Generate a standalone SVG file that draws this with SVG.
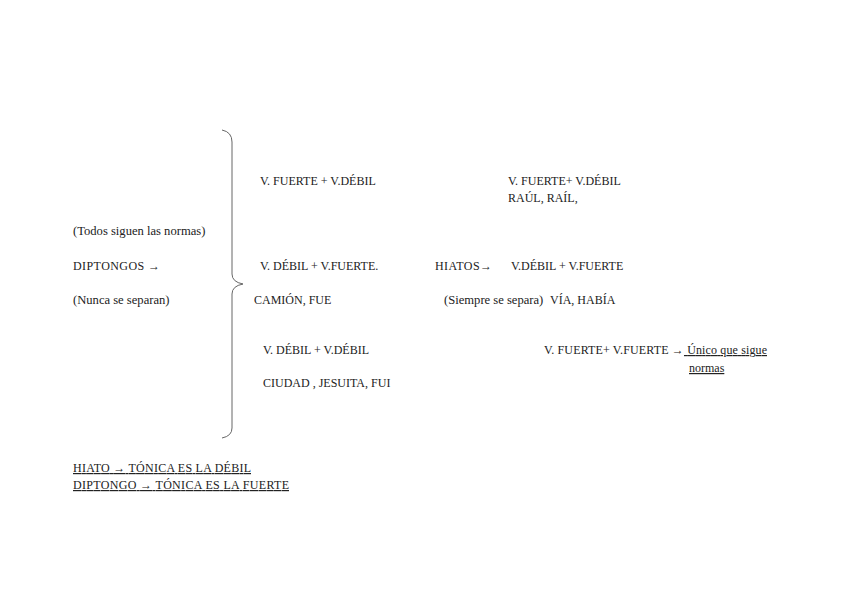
<svg xmlns="http://www.w3.org/2000/svg" width="848" height="600" viewBox="0 0 848 600">
<style>
text{font-family:"Liberation Serif","DejaVu Serif",serif;font-size:12px;fill:#222}
.s{font-size:12.6px}
.u{text-decoration:underline}
</style>
<rect width="848" height="600" fill="#fff"/>
<g id="connectors">
<path d="M222,130 Q232,132 232,142 L232,274 Q232,282 243,284 Q232,286 232,294 L232,428 Q232,436 222,438" fill="none" stroke="#666" stroke-width="1"/>
</g>
<g id="left">
<text x="73" y="235" class="s">(Todos siguen las normas)</text>
<text x="73" y="270" textLength="87" lengthAdjust="spacing">DIPTONGOS →</text>
<text x="73" y="304" class="s">(Nunca se separan)</text>
</g>
<g id="d1">
<text x="260" y="185">V. FUERTE + V.DÉBIL</text>
</g>
<g id="d2">
<text x="260" y="270">V. DÉBIL + V.FUERTE.</text>
<text x="254" y="304">CAMIÓN, FUE</text>
</g>
<g id="d3">
<text x="263" y="354">V. DÉBIL + V.DÉBIL</text>
<text x="263" y="387">CIUDAD , JESUITA, FUI</text>
</g>
<g id="h1">
<text x="508" y="185">V. FUERTE+ V.DÉBIL</text>
<text x="508" y="202">RAÚL, RAÍL,</text>
</g>
<g id="h2">
<text x="435" y="270" textLength="57" lengthAdjust="spacing">HIATOS→</text>
<text x="511" y="270">V.DÉBIL + V.FUERTE</text>
<text x="444" y="304" class="s">(Siempre se separa)</text>
<text x="550" y="304">VÍA, HABÍA</text>
</g>
<g id="h3">
<text x="544" y="354" textLength="223" lengthAdjust="spacing">V. FUERTE+ V.FUERTE →<tspan class="u"> Único que sigue</tspan></text>
<text x="689" y="372" class="u">normas</text>
</g>
<g id="bottom">
<text x="73" y="472" class="u" textLength="178" lengthAdjust="spacing">HIATO → TÓNICA ES LA DÉBIL</text>
<text x="73" y="489" class="u" textLength="216" lengthAdjust="spacing">DIPTONGO → TÓNICA ES LA FUERTE</text>
</g>
</svg>
